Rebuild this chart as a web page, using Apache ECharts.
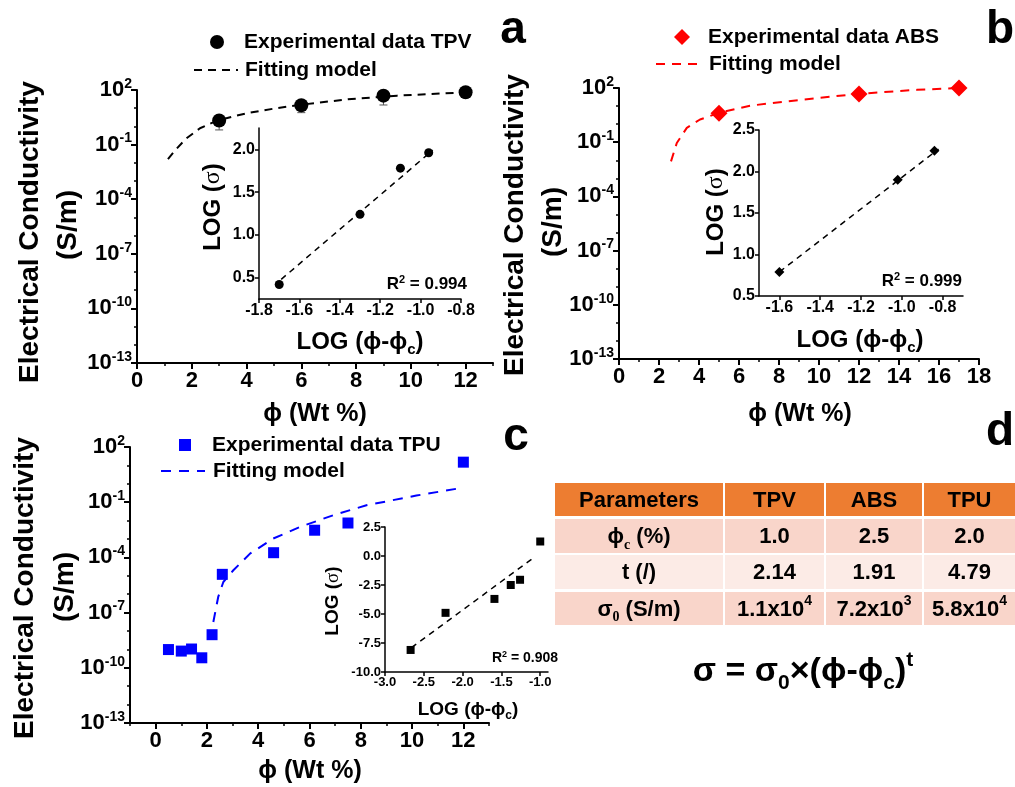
<!DOCTYPE html>
<html><head><meta charset="utf-8">
<script src="https://cdn.jsdelivr.net/npm/echarts@6/dist/echarts.min.js"></script>
<style>html,body{margin:0;padding:0;background:#fff}#chart{width:1015px;height:787px}</style>
</head><body><div id="chart"></div>
<script>
// ================= DATA =================
// Panel a (TPV)
const tpvPhi = [3, 6, 9, 12];
const tpvSigma = [2.1, 14.5, 49, 75];
const tpvSigmaLow = [0.64, 5.7, 15, 75];
const tpvFitPhi = [1.13, 1.4, 1.8, 2.3, 2.9, 3.5, 4.1, 5.0, 5.9, 7.7, 9.5, 12];
const tpvFitSigma = [0.016, 0.05, 0.22, 0.79, 2.0, 3.5, 5.6, 9.5, 15, 31, 49, 74];
const tpvInsetX = [-1.70, -1.30, -1.10, -0.96];
const tpvInsetY = [0.42, 1.24, 1.78, 1.96];
const tpvInsetFitX = [-1.69, -0.94];
const tpvInsetFitY = [0.48, 1.99];
// Panel b (ABS)
const absPhi = [5, 12, 17];
const absSigma = [4.0, 47, 100];
const absFitPhi = [2.6, 2.89, 3.39, 4.05, 5.0, 6.55, 9.05, 12, 14.9, 17];
const absFitSigma = [0.0087, 0.091, 0.62, 1.8, 4.2, 10.5, 22, 48, 79, 100];
const absInsetX = [-1.60, -1.02, -0.84];
const absInsetY = [0.79, 1.90, 2.25];
const absInsetFitX = [-1.60, -0.82];
const absInsetFitY = [0.79, 2.27];
// Panel c (TPU)
const tpuPhi = [0.5, 1.0, 1.4, 1.8, 2.2, 2.6, 4.6, 6.2, 7.5, 12];
const tpuSigma = [9.8e-10, 8.1e-10, 1.05e-9, 3.5e-10, 6.3e-9, 1.2e-5, 1.8e-4, 3.0e-3, 7.4e-3, 15];
const tpuFitPhi = [2.25, 2.44, 2.64, 3.03, 3.68, 4.58, 5.63, 6.92, 8.22, 10.17, 12.0];
const tpuFitSigma = [3.1e-8, 7.1e-7, 4.6e-6, 2.0e-5, 1.6e-4, 1.05e-3, 4.5e-3, 0.0195, 0.068, 0.23, 0.62];
const tpuInsetX = [-2.67, -2.22, -1.59, -1.38, -1.26, -1.00];
const tpuInsetY = [-8.1, -4.9, -3.7, -2.5, -2.05, 1.25];
const tpuInsetFitX = [-2.66, -1.07];
const tpuInsetFitY = [-7.9, -0.08];
// Tick labels
const xTicksA = [0, 2, 4, 6, 8, 10, 12];
const xTicksB = [0, 2, 4, 6, 8, 10, 12, 14, 16, 18];
const xTicksC = [0, 2, 4, 6, 8, 10, 12];
const insetTicksAX = [-1.8, -1.6, -1.4, -1.2, -1.0, -0.8];
const insetTicksAY = [0.5, 1.0, 1.5, 2.0];
const insetTicksBX = [-1.6, -1.4, -1.2, -1.0, -0.8];
const insetTicksCX = [-3.0, -2.5, -2.0, -1.5, -1.0];
const rSquared = ['0.994', '0.999', '0.908'];
// Table d
const tableHeader = ['Parameters', 'TPV', 'ABS', 'TPU'];
const tableRowLabels = ['{t|ϕ}{sub|c}{t| (%)}', '{t|t (/)}', '{t|σ}{sub|0}{t| (S/m)}'];
const tablePhiC = ['1.0', '2.5', '2.0'];
const tableT = ['2.14', '1.91', '4.79'];
const tableSigma0Mant = ['1.1', '7.2', '5.8'];
const tableSigma0Exp = ['4', '3', '4'];

// ================= STYLE =================
const FONT = '"Liberation Sans", Arial, Helvetica, sans-serif';
const SERIF = '"Liberation Serif", "Times New Roman", serif';
const log10 = v => Math.log10(v);

function mainY(gridIndex) {
  return {
    type: 'value', gridIndex, min: -13, max: 2, interval: 3,
    axisLine: { show: true, onZero: false, lineStyle: { color: '#000', width: 2 } },
    axisTick: { show: true, length: 6, lineStyle: { color: '#000', width: 2 } },
    minorTick: { show: true, splitNumber: 3, length: 3, lineStyle: { color: '#000', width: 1.5 } },
    splitLine: { show: false }, minorSplitLine: { show: false },
    axisLabel: {
      margin: 5, color: '#000',
      formatter: v => '{b|10}{s|' + v + '}',
      rich: {
        b: { fontSize: 22, fontWeight: 'bold', fontFamily: FONT, color: '#000', lineHeight: 26 },
        s: { fontSize: 14, fontWeight: 'bold', fontFamily: FONT, color: '#000', verticalAlign: 'top', lineHeight: 26 }
      }
    }
  };
}
function mainX(gridIndex, min, max, ticks) {
  return {
    type: 'value', gridIndex, min, max, position: 'bottom',
    axisLine: { show: true, onZero: false, lineStyle: { color: '#000', width: 2 } },
    axisTick: { show: true, customValues: ticks, length: 6, lineStyle: { color: '#000', width: 2 } },
    axisLabel: { customValues: ticks, margin: 7, fontSize: 22, fontWeight: 'bold', color: '#000', fontFamily: FONT },
    splitLine: { show: false }
  };
}
function minorX(gridIndex, min, max) {
  return {
    type: 'value', gridIndex, min, max, interval: 1, position: 'bottom',
    axisLine: { show: false, onZero: false },
    axisTick: { show: true, length: 3, lineStyle: { color: '#000', width: 1.5 } },
    axisLabel: { show: false }, splitLine: { show: false }
  };
}
function insetX(gridIndex, min, max, ticks, fs) {
  return {
    type: 'value', gridIndex, min, max, position: 'bottom',
    axisLine: { show: true, onZero: false, lineStyle: { color: '#000', width: 1.5 } },
    axisTick: { show: true, customValues: ticks, length: 4, lineStyle: { color: '#000', width: 1.5 } },
    axisLabel: { customValues: ticks, margin: 4, fontSize: fs, fontWeight: 'bold', color: '#000', fontFamily: FONT, formatter: v => Number(v).toFixed(1) },
    splitLine: { show: false }
  };
}
function insetY(gridIndex, min, max, opts, fs) {
  const ax = {
    type: 'value', gridIndex, min, max,
    axisLine: { show: true, onZero: false, lineStyle: { color: '#000', width: 1.5 } },
    axisTick: { show: true, length: 4, lineStyle: { color: '#000', width: 1.5 } },
    axisLabel: { margin: 4, fontSize: fs, fontWeight: 'bold', color: '#000', fontFamily: FONT, formatter: v => Number(v).toFixed(1) },
    splitLine: { show: false }
  };
  if (opts.interval) ax.interval = opts.interval;
  if (opts.ticks) { ax.axisTick.customValues = opts.ticks; ax.axisLabel.customValues = opts.ticks; }
  return ax;
}

const grids = [
  { left: 137, top: 90, width: 356, height: 273 },   // 0 a main
  { left: 259, top: 128, width: 202, height: 171 },  // 1 a inset
  { left: 619, top: 88, width: 360, height: 271 },   // 2 b main
  { left: 759, top: 130, width: 204, height: 166 },  // 3 b inset
  { left: 130, top: 447, width: 359, height: 276 },  // 4 c main
  { left: 385, top: 527, width: 163, height: 145 }   // 5 c inset
];
const xAxes = [
  mainX(0, 0, 13, xTicksA), minorX(0, 0, 13),          // 0,1
  insetX(1, -1.8, -0.8, insetTicksAX, 16),              // 2
  mainX(2, 0, 18, xTicksB), minorX(2, 0, 18),           // 3,4
  insetX(3, -1.7, -0.7, insetTicksBX, 16),              // 5
  mainX(4, -1, 13, xTicksC), minorX(4, -1, 13),         // 6,7
  insetX(5, -3, -0.9, insetTicksCX, 13)                 // 8
];
const yAxes = [
  mainY(0),
  insetY(1, 0.25, 2.25, { ticks: insetTicksAY }, 16),
  mainY(2),
  insetY(3, 0.5, 2.5, { interval: 0.5 }, 16),
  mainY(4),
  insetY(5, -10, 2.5, { interval: 2.5 }, 13)
];

const zip = (xs, ys, f) => xs.map((x, i) => [x, f ? f(ys[i]) : ys[i]]);
const dashLine = (name, xi, yi, data, color, width, dash) => ({
  name, type: 'line', xAxisIndex: xi, yAxisIndex: yi, data, symbol: 'none', smooth: false,
  lineStyle: { color, width, type: dash }, itemStyle: { color }, z: 2, silent: true
});
const scatter = (name, xi, yi, data, symbol, size, color) => ({
  name, type: 'scatter', xAxisIndex: xi, yAxisIndex: yi, data, symbol, symbolSize: size,
  itemStyle: { color, opacity: 1 }, z: 4, silent: true
});

const series = [
  // a main
  {
    type: 'custom', xAxisIndex: 0, yAxisIndex: 0, z: 3, silent: true,
    data: tpvPhi.map((x, i) => [x, log10(tpvSigma[i]), log10(tpvSigmaLow[i])]),
    renderItem: (params, api) => {
      const p = api.coord([api.value(0), api.value(1)]);
      const q = api.coord([api.value(0), api.value(2)]);
      return { type: 'group', children: [
        { type: 'line', shape: { x1: p[0], y1: p[1], x2: q[0], y2: q[1] }, style: { stroke: '#555', lineWidth: 1 } },
        { type: 'line', shape: { x1: q[0] - 4, y1: q[1], x2: q[0] + 4, y2: q[1] }, style: { stroke: '#555', lineWidth: 1 } }
      ] };
    }
  },
  dashLine('fitA', 0, 0, zip(tpvFitPhi, tpvFitSigma, log10), '#000', 2, [8, 6]),
  scatter('Experimental data TPV', 0, 0, zip(tpvPhi, tpvSigma, log10), 'circle', 14, '#000'),
  // a inset
  dashLine('insetFitA', 2, 1, zip(tpvInsetFitX, tpvInsetFitY), '#000', 1.5, [6, 5]),
  scatter('insetA', 2, 1, zip(tpvInsetX, tpvInsetY), 'circle', 9, '#000'),
  // b main
  dashLine('fitB', 3, 2, zip(absFitPhi, absFitSigma, log10), '#ff0000', 2, [9, 7]),
  scatter('Experimental data ABS', 3, 2, zip(absPhi, absSigma, log10), 'diamond', 17, '#ff0000'),
  // b inset
  dashLine('insetFitB', 5, 3, zip(absInsetFitX, absInsetFitY), '#000', 1.5, [6, 5]),
  scatter('insetB', 5, 3, zip(absInsetX, absInsetY), 'diamond', 10, '#000'),
  // c main
  dashLine('fitC', 6, 4, zip(tpuFitPhi, tpuFitSigma, log10), '#0000ff', 2, [10, 8]),
  scatter('Experimental data TPU', 6, 4, zip(tpuPhi, tpuSigma, log10), 'rect', 11, '#0000ff'),
  // c inset
  dashLine('insetFitC', 8, 5, zip(tpuInsetFitX, tpuInsetFitY), '#000', 1.5, [6, 5]),
  scatter('insetC', 8, 5, zip(tpuInsetX, tpuInsetY), 'rect', 8, '#000')
];

const legendItem = (left, top, w, h, pad, item) => ({
  left, top, orient: 'vertical', itemWidth: w, itemHeight: h, selectedMode: false,
  data: [item],
  textStyle: { fontSize: 21, fontWeight: 'bold', color: '#000', fontFamily: FONT, lineHeight: 26, padding: [0, 0, 0, pad] },
  formatter: n => n.startsWith('fit') ? 'Fitting model' : n
});
const legends = [
  legendItem(205, 24, 14, 14, 15, 'Experimental data TPV'),
  legendItem(188, 52, 44, 14, 2, { name: 'fitA', itemStyle: { opacity: 0 } }),
  legendItem(669, 19, 16, 16, 13, 'Experimental data ABS'),
  legendItem(650, 46, 44, 14, 4, { name: 'fitB', itemStyle: { opacity: 0 } }),
  legendItem(174, 427, 12, 12, 16, 'Experimental data TPU'),
  legendItem(155, 453, 44, 14, 3, { name: 'fitC', itemStyle: { opacity: 0 } })
];

// ================= TEXT / TABLE (graphic) =================
const g = [];
const vtext = (x, y, text, size, rich) => ({ type: 'text', x, y, rotation: Math.PI / 2, silent: true,
  style: { text, align: 'center', verticalAlign: 'middle', fill: '#000', font: 'bold ' + size + 'px ' + FONT, rich } });
const htext = (x, y, text, size, align, rich) => ({ type: 'text', x, y, silent: true,
  style: { text, align: align || 'center', verticalAlign: 'middle', fill: '#000', font: 'bold ' + size + 'px ' + FONT, rich } });

// main axis names
[[30, 232, 68, 225], [515, 225, 553, 222], [25, 588, 65, 587]].forEach(p => {
  g.push(vtext(p[0], p[1], 'Electrical Conductivity', 28));
  g.push(vtext(p[2], p[3], '(S/m)', 28));
});
g.push(htext(315, 414, 'ϕ (Wt %)', 25));
g.push(htext(800, 414, 'ϕ (Wt %)', 25));
g.push(htext(310, 771, 'ϕ (Wt %)', 25));
// panel letters
g.push(htext(513, 30, 'a', 46));
g.push(htext(1000, 30, 'b', 46));
g.push(htext(516, 437, 'c', 46));
g.push(htext(1000, 432, 'd', 46));
// inset axis names
const richLog = fs => ({
  n: { fontSize: fs, fontWeight: 'bold', fontFamily: FONT, color: '#000' },
  s: { fontSize: Math.round(fs * 0.62), fontWeight: 'bold', fontFamily: FONT, color: '#000', verticalAlign: 'bottom', lineHeight: fs * 1.25 },
  g: { fontSize: fs, fontFamily: SERIF, color: '#000' }
});
g.push(vtext(213, 207, '{n|LOG (}{g|σ}{n|)}', 24, richLog(24)));
g.push(htext(360, 342, '{n|LOG (ϕ-ϕ}{s|c}{n|)}', 24, 'center', richLog(24)));
g.push(vtext(716, 212, '{n|LOG (}{g|σ}{n|)}', 24, richLog(24)));
g.push(htext(860, 340, '{n|LOG (ϕ-ϕ}{s|c}{n|)}', 24, 'center', richLog(24)));
g.push(vtext(333, 601, '{n|LOG (}{g|σ}{n|)}', 19, richLog(19)));
g.push(htext(468, 710, '{n|LOG (ϕ-ϕ}{s|c}{n|)}', 19, 'center', richLog(19)));
// R² labels
const richR = fs => ({
  r: { fontSize: fs, fontWeight: 'bold', fontFamily: FONT, color: '#000' },
  p: { fontSize: Math.round(fs * 0.65), fontWeight: 'bold', fontFamily: FONT, color: '#000', verticalAlign: 'top', lineHeight: fs + 2 }
});
g.push(htext(467, 284, '{r|R}{p|2}{r| = ' + rSquared[0] + '}', 17, 'right', richR(17)));
g.push(htext(962, 281, '{r|R}{p|2}{r| = ' + rSquared[1] + '}', 17, 'right', richR(17)));
g.push(htext(558, 658, '{r|R}{p|2}{r| = ' + rSquared[2] + '}', 14, 'right', richR(14)));

// table
const colX = [[555, 723], [725, 824], [826, 922], [924, 1015]];
const rowY = [[483, 516], [519, 553], [555, 589], [592, 625]];
const rowFill = ['#ED7D31', '#F9D5CA', '#FCEBE6', '#F9D5CA'];
const TFS = 22;
const tRich = {
  t: { fontSize: TFS, fontWeight: 'bold', fontFamily: FONT, color: '#000' },
  sub: { fontSize: 14, fontWeight: 'bold', fontFamily: SERIF, color: '#000', verticalAlign: 'bottom', lineHeight: 30 },
  sup: { fontSize: 14, fontWeight: 'bold', fontFamily: FONT, color: '#000', verticalAlign: 'top', lineHeight: 30 }
};
const cellTexts = [
  tableHeader.map(h => '{t|' + h + '}'),
  [tableRowLabels[0]].concat(tablePhiC.map(v => '{t|' + v + '}')),
  [tableRowLabels[1]].concat(tableT.map(v => '{t|' + v + '}')),
  [tableRowLabels[2]].concat(tableSigma0Mant.map((m, i) => '{t|' + m + 'x10}{sup|' + tableSigma0Exp[i] + '}'))
];
rowY.forEach((ry, r) => {
  colX.forEach((cx, c) => {
    g.push({ type: 'rect', silent: true, shape: { x: cx[0], y: ry[0], width: cx[1] - cx[0], height: ry[1] - ry[0] }, style: { fill: rowFill[r] }, z: 1 });
    g.push({ type: 'text', silent: true, x: (cx[0] + cx[1]) / 2, y: (ry[0] + ry[1]) / 2 + 1, z: 2,
      style: { text: cellTexts[r][c], align: 'center', verticalAlign: 'middle', rich: tRich } });
  });
});
// formula
g.push({ type: 'text', silent: true, x: 803, y: 672,
  style: { text: '{f|σ = σ}{b|0}{f|×(ϕ-ϕ}{b|c}{f|)}{p|t}', align: 'center', verticalAlign: 'middle',
    rich: {
      f: { fontSize: 34, fontWeight: 'bold', fontFamily: FONT, color: '#000', lineHeight: 44 },
      b: { fontSize: 21, fontWeight: 'bold', fontFamily: FONT, color: '#000', verticalAlign: 'bottom', lineHeight: 44 },
      p: { fontSize: 21, fontWeight: 'bold', fontFamily: FONT, color: '#000', verticalAlign: 'top', lineHeight: 44 }
    } } });

const chart = echarts.init(document.getElementById('chart'), null, { renderer: 'canvas' });
chart.setOption({
  animation: false,
  backgroundColor: '#fff',
  textStyle: { fontFamily: FONT },
  grid: grids,
  xAxis: xAxes,
  yAxis: yAxes,
  legend: legends,
  series,
  graphic: g
});
</script></body></html>
